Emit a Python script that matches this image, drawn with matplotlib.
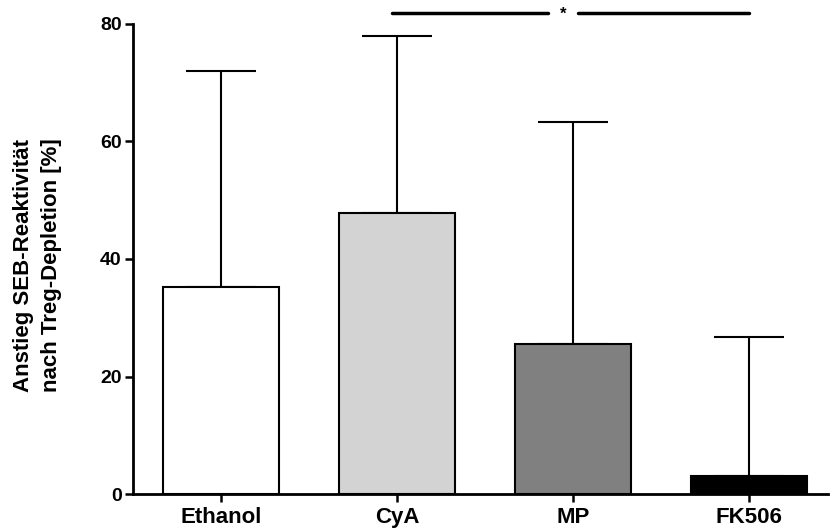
import matplotlib.pyplot as plt

plt.rcParams['font.family'] = ['Liberation Sans', 'DejaVu Sans']
plt.rcParams['font.weight'] = 'bold'

groups = ['Ethanol', 'CyA', 'MP', 'FK506']
means = [35.2, 47.9, 25.6, 3.1]
upper = [72.0, 78.0, 63.3, 26.8]
colors = ['white', '#d3d3d3', '#808080', 'black']
err = [u - m for u, m in zip(upper, means)]

fig = plt.figure(figsize=(8.3, 5.29), dpi=100)
ax = fig.add_axes([0.160, 0.066, 0.838, 0.889])

x = list(range(len(groups)))
ax.bar(x, means, width=0.66, color=colors, edgecolor='black', linewidth=1.5, zorder=2)
ax.errorbar(x, means, yerr=[[0] * len(err), err], fmt='none', ecolor='black',
            elinewidth=1.5, capsize=25, capthick=1.5, zorder=1)

# significance bar CyA vs FK506
ax.plot([0.97, 1.86], [81.9, 81.9], color='black', lw=2.5, clip_on=False, solid_capstyle='round')
ax.plot([2.03, 3], [81.9, 81.9], color='black', lw=2.5, clip_on=False, solid_capstyle='round')
ax.text(1.945, 81.6, '*', ha='center', va='center', fontsize=12, clip_on=False)

ax.set_xlim(-0.5, 3.45)
ax.set_ylim(0, 80)
ax.set_yticks([0, 20, 40, 60, 80])
ax.set_xticks(x)
ax.set_xticklabels(groups)
ax.tick_params(axis='both', width=1.8, length=6, direction='out')
ax.tick_params(axis='y', labelsize=14, pad=2)
ax.tick_params(axis='x', labelsize=16, pad=3)
for s in ['top', 'right']:
    ax.spines[s].set_visible(False)
for s in ['left', 'bottom']:
    ax.spines[s].set_linewidth(2)
for lab in ax.get_xticklabels() + ax.get_yticklabels():
    lab.set_fontweight('bold')

ax.set_ylabel('Anstieg SEB-Reaktivität\nnach Treg-Depletion [%]', fontsize=16,
              fontweight='bold', linespacing=1.45)
ax.yaxis.set_label_coords(-0.102, 0.487)

fig.savefig('out.png', dpi=100)
